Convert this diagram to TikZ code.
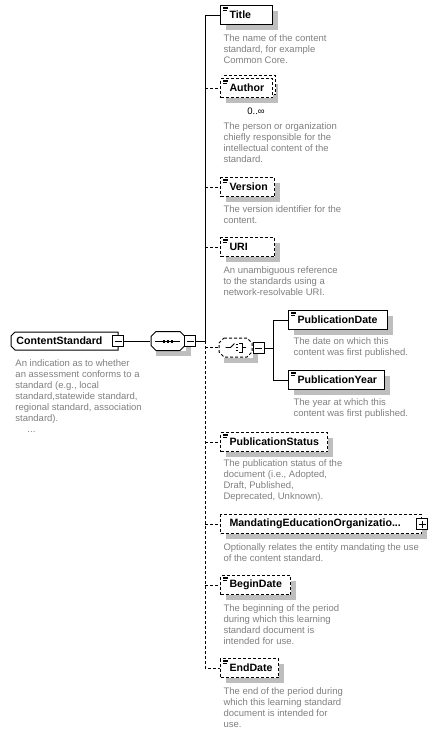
\documentclass[tikz,border=0pt]{standalone}
\usepackage{fontspec}
\setmainfont{Liberation Sans}
\usetikzlibrary{shadows}
\definecolor{descgray}{RGB}{128,128,128}
\definecolor{shadowgray}{RGB}{190,190,190}

\begin{document}
\begin{tikzpicture}[x=1pt,y=-1pt,line width=1pt,
    shadowed/.style={drop shadow={shadow xshift=5pt,shadow yshift=-5pt,fill=shadowgray,opacity=1}},
    box/.style={draw,fill=white,anchor=west,minimum height=19pt,inner sep=0pt,text width=#1,
        font=\fontsize{10.6}{12}\selectfont\bfseries},
    padded/.style={execute at begin node=\hspace*{#1pt}},
    padded/.default=9,
    elem/.style={box=#1,padded,shadowed},
    optional/.style={dash pattern=on 3pt off 2pt},
    simple/.style={path picture={\foreach \k/\w in {0/5,1/5,2/4}
        \draw[solid,line width=0.7pt] ([shift={(2.5,1.5+1.8*\k)}]path picture bounding box.north west) -- ++(\w,0);}},
    btn/.style={draw,solid,fill=white,minimum size=11pt,inner sep=0pt,
        path picture={\draw[line width=0.9pt] ([xshift=-3.5pt]path picture bounding box.center) -- ([xshift=3.5pt]path picture bounding box.center);}},
    plusbtn/.style={draw,solid,fill=white,minimum size=11pt,inner sep=0pt,
        path picture={\draw[line width=0.9pt] ([xshift=-3.5pt]path picture bounding box.center) -- ([xshift=3.5pt]path picture bounding box.center)
            ([yshift=-3.5pt]path picture bounding box.center) -- ([yshift=3.5pt]path picture bounding box.center);}},
    compositor/.style={fill=white,inner sep=0pt,shadowed,
        path picture={
            \coordinate (nw) at ([shift={(0.5,0.5)}]path picture bounding box.north west);
            \coordinate (ne) at ([shift={(-0.5,0.5)}]path picture bounding box.north east);
            \coordinate (se) at ([shift={(-0.5,-0.5)}]path picture bounding box.south east);
            \coordinate (sw) at ([shift={(0.5,-0.5)}]path picture bounding box.south west);
            \draw[#1] ([shift={(5,0)}]nw) -- ([shift={(-5,0)}]ne) -- ([shift={(0,5)}]ne) -- ([shift={(0,-5)}]se)
                -- ([shift={(-5,0)}]se) -- ([shift={(5,0)}]sw) -- ([shift={(0,-5)}]sw) -- ([shift={(0,5)}]nw) -- cycle;}},
    compositor/.default=solid,
    desc/.style={anchor=north west,align=left,inner sep=0pt,text=descgray,font=\fontsize{9.5}{11}\selectfont}
]
    \useasboundingbox (0,0) rectangle (435,734);

    \node[box=106,draw=none,padded=5,minimum height=17pt] (cs) at (11,341) {ContentStandard};
    \draw (cs.north east) -- ([shift={(4,0)}]cs.north west) -- ([shift={(0,4)}]cs.north west)
        -- ([shift={(0,-4)}]cs.south west) -- ([shift={(4,0)}]cs.south west) -- (cs.south east) -- cycle;
    \node[btn] (csbtn) at (cs.east) {};
    \node[desc] (csdesc) at (15,359.5) {An indication as to whether\\an assessment conforms to a\\standard (e.g., local\\standard,statewide standard,\\regional standard, association\\standard).\\\hspace*{12pt}...};

    \node[compositor,minimum width=35pt,minimum height=20pt] (seq) at (168,341) {};
    \draw (seq.center) ++(-13,0) -- ++(25,0);
    \foreach \d in {-4,0,4}
        \fill ([shift={(\d-1.3,-1.5)}]seq.center) rectangle ++(2.6,3);
    \node[btn] (seqbtn) at (190,341) {};
    \coordinate (spine) at (205,341);
    \draw (csbtn) -- (seq);
    \draw (seqbtn) -- (spine);

    \node[elem=52,simple] (title) at (220,15) {Title};
    \node[desc] (titledesc) at (223,34.5) {The name of the content\\standard, for example\\Common Core.};

    \node[box=52,optional,drop shadow={shadow xshift=2pt,shadow yshift=-8pt,fill=shadowgray,opacity=1}] (authorbk) at (223,85) {};
    \node[box=52,padded,optional,simple] (author) at (220,88) {Author};
    \node[font=\fontsize{9.5}{11}\selectfont,inner sep=0pt] (authorocc) at (256,111) {0..∞};
    \node[desc] (authordesc) at (223,122.5) {The person or organization\\chiefly responsible for the\\intellectual content of the\\standard.};

    \node[elem=54,optional,simple] (version) at (220,187) {Version};
    \node[desc] (versiondesc) at (223,205.5) {The version identifier for the\\content.};

    \node[elem=54,optional,simple] (uri) at (220,247) {URI};
    \node[desc] (uridesc) at (223,266.5) {An unambiguous reference\\to the standards using a\\network-resolvable URI.};

    \node[compositor=optional,minimum width=34pt,minimum height=20pt] (choice) at (235.5,347.5) {};
    \draw[line width=0.8pt] ([shift={(-10,0)}]choice.center) -- ++(5,0) -- ++(4,-4);
    \foreach \d in {-3,0,3}
        \fill ([shift={(0.8,\d-0.9)}]choice.center) rectangle ++(1.8,1.8);
    \draw[line width=0.8pt] ([shift={(3.5,-4.5)}]choice.center) -- ++(3,0) -- ++(0,9) -- ++(-3,0);
    \draw[line width=0.8pt] ([shift={(6.5,0)}]choice.center) -- ++(4,0);
    \node[btn] (choicebtn) at (258.5,348) {};
    \coordinate (fork) at (273,348);
    \draw (choicebtn) -- (fork);

    \node[elem=99,simple] (pubdate) at (288,320) {PublicationDate};
    \node[desc] (pubdatedesc) at (293,337.5) {The date on which this\\content was first published.};
    \node[elem=96,simple] (pubyear) at (288,380) {PublicationYear};
    \node[desc] (pubyeardesc) at (293,398.5) {The year at which this\\content was first published.};
    \draw (fork) |- (pubdate.west);
    \draw (fork) |- (pubyear.west);

    \node[elem=107,optional,simple] (pubstatus) at (220,442) {PublicationStatus};
    \node[desc] (pubstatusdesc) at (223,459.5) {The publication status of the\\document (i.e., Adopted,\\Draft, Published,\\Deprecated, Unknown).};

    \node[elem=201,optional] (mandating) at (220,524) {MandatingEducationOrganizatio...};
    \node[plusbtn] (mandbtn) at (mandating.east) {};
    \node[desc] (mandatingdesc) at (223,543.5) {Optionally relates the entity mandating the use\\of the content standard.};

    \node[elem=70,optional,simple] (begindate) at (220,585) {BeginDate};
    \node[desc] (begindatedesc) at (223,604.5) {The beginning of the period\\during which this learning\\standard document is\\intended for use.};

    \node[elem=58,optional,simple] (enddate) at (220,668) {EndDate};
    \node[desc] (enddatedesc) at (223,687.5) {The end of the period during\\which this learning standard\\document is intended for\\use.};

    \draw (spine) |- (title.west);
    \draw[optional] (spine) |- (enddate.west);
    \foreach \n in {author,version,uri,choice,pubstatus,mandating,begindate}
        \draw[optional] (spine |- \n.west) -- (\n.west);
\end{tikzpicture}
\end{document}
